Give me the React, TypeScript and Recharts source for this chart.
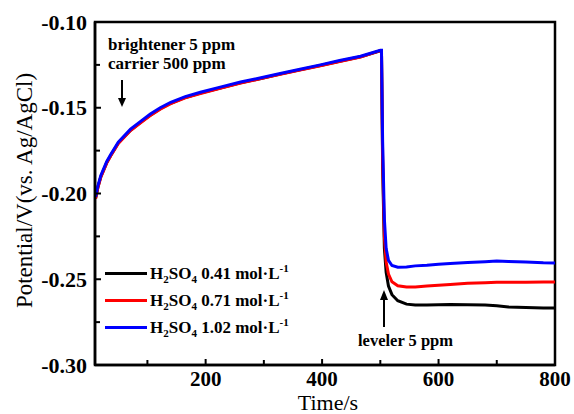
import { LineChart, Line, XAxis, YAxis, Legend, ReferenceArea } from 'recharts';

// time (s) shared by all three curves
const times = [
  11, 15, 20, 30, 37, 50, 71, 90, 105, 122, 140, 165, 191, 225, 260, 295, 328, 362, 397, 430, 466, 500,
  502, 504, 507, 510, 514, 520, 530, 545, 560, 580, 600, 620, 650, 680, 700, 720, 750, 780, 800,
];

const black041 = [
  -0.2028, -0.1963, -0.1902, -0.1821, -0.1778, -0.1706, -0.1631, -0.1581, -0.1543, -0.1506, -0.1474,
  -0.1440, -0.1415, -0.1385, -0.1355, -0.1329, -0.1304, -0.1279, -0.1254, -0.1229, -0.1203, -0.1168,
  -0.1168, -0.185, -0.232, -0.246, -0.254, -0.259, -0.2625, -0.2645, -0.265, -0.265, -0.2648, -0.2647,
  -0.2648, -0.265, -0.2655, -0.2662, -0.2665, -0.2667, -0.2668,
];

const red071 = [
  -0.2030, -0.1965, -0.1905, -0.1823, -0.1780, -0.1708, -0.1633, -0.1583, -0.1545, -0.1508, -0.1476,
  -0.1442, -0.1417, -0.1387, -0.1356, -0.1330, -0.1305, -0.1280, -0.1255, -0.1230, -0.1204, -0.1167,
  -0.1167, -0.180, -0.225, -0.240, -0.247, -0.2515, -0.2538, -0.2545, -0.2545, -0.254, -0.2535, -0.253,
  -0.2524, -0.252, -0.2518, -0.2517, -0.2517, -0.2516, -0.2516,
];

const blue102 = [
  -0.2020, -0.1955, -0.1895, -0.1815, -0.1772, -0.1700, -0.1625, -0.1575, -0.1537, -0.1500, -0.1468,
  -0.1435, -0.1410, -0.1380, -0.1350, -0.1325, -0.1300, -0.1275, -0.1250, -0.1225, -0.1200, -0.1165,
  -0.1165, -0.170, -0.215, -0.232, -0.239, -0.242, -0.243, -0.2428, -0.2422, -0.2418, -0.2412, -0.2408,
  -0.2402, -0.2398, -0.2394, -0.2396, -0.24, -0.2404, -0.2405,
];

const concentrations = ['0.41', '0.71', '1.02'];
const colors = ['#000000', '#ff0000', '#0000ff'];

const xTicks = [100, 200, 300, 400, 500, 600, 700, 800];
const xLabels = [200, 400, 600, 800];
const yTicks = [-0.3, -0.275, -0.25, -0.225, -0.2, -0.175, -0.15, -0.125, -0.1];
const yLabels = ['-0.30', '-0.25', '-0.20', '-0.15', '-0.10'];

const data = times.map((t, i) => ({ t, a: black041[i], b: red071[i], c: blue102[i] }));

const font = '"Liberation Serif", "Times New Roman", serif';

const XTick = ({ x, y, payload }: any) => {
  const major = xLabels.includes(payload.value);
  return (
    <g>
      <line x1={x} x2={x} y1={y} y2={y - (major ? 6 : 5)} stroke="#000" strokeWidth={2} />
      {major && (
        <text x={x} y={y + 14} textAnchor="middle" dominantBaseline="central"
          fontFamily={font} fontSize={21} fontWeight="bold" fill="#000">
          {payload.value}
        </text>
      )}
    </g>
  );
};

const YTick = ({ x, y, payload }: any) => {
  const s = Number(payload.value).toFixed(2);
  const major = yLabels.includes(s) && Math.abs(payload.value * 100 - Math.round(payload.value * 100)) < 1e-6;
  return (
    <g>
      <line x1={x} x2={x + (major ? 6 : 5)} y1={y} y2={y} stroke="#000" strokeWidth={2} />
      {major && (
        <text x={x - 8} y={y} textAnchor="end" dominantBaseline="central"
          fontFamily={font} fontSize={22} fontWeight="bold" fill="#000">
          {s}
        </text>
      )}
    </g>
  );
};

const renderLegend = () => (
  <div style={{ fontFamily: font, fontSize: 17, fontWeight: 'bold', color: '#000' }}>
    {concentrations.map((c, i) => (
      <div key={c} style={{ display: 'flex', alignItems: 'center', height: 27 }}>
        <span style={{ display: 'inline-block', width: 42, height: 3, background: colors[i], marginRight: 3 }} />
        <span>
          H<sub style={{ fontSize: 11 }}>2</sub>SO<sub style={{ fontSize: 11 }}>4</sub> {c} mol·L
          <sup style={{ fontSize: 11 }}>-1</sup>
        </span>
      </div>
    ))}
  </div>
);

export default function App() {
  return (
    <div style={{ position: 'absolute', left: 0, top: 0, background: '#fff' }}>
      <LineChart width={574} height={414} data={data} margin={{ top: 22, right: 19, bottom: 0, left: 0 }}>
        <XAxis
          dataKey="t"
          type="number"
          domain={[10, 800]}
          ticks={xTicks}
          tickSize={0}
          tickMargin={0}
          tick={<XTick />}
          axisLine={{ stroke: '#000', strokeWidth: 2.5 }}
          height={49}
          label={({ viewBox }: any) => (
            <text x={viewBox.x + viewBox.width / 2 + 3} y={viewBox.y + 45} textAnchor="middle"
              fontFamily={font} fontSize={22} fill="#000">
              Time/s
            </text>
          )}
        />
        <YAxis
          type="number"
          domain={[-0.3, -0.1]}
          ticks={yTicks}
          tickSize={0}
          tickMargin={0}
          tick={<YTick />}
          axisLine={{ stroke: '#000', strokeWidth: 2.5 }}
          width={95}
          label={({ viewBox }: any) => (
            <text
              x={viewBox.x + 24}
              y={viewBox.y + viewBox.height / 2 - 3}
              transform={`rotate(-90 ${viewBox.x + 24} ${viewBox.y + viewBox.height / 2 - 3})`}
              textAnchor="middle"
              dominantBaseline="central"
              fontFamily={font}
              fontSize={23}
              fill="#000"
            >
              Potential/V(vs. Ag/AgCl)
            </text>
          )}
        />
        <ReferenceArea x1={10} x2={800} y1={-0.3} y2={-0.1} fill="none" stroke="#000" strokeWidth={2.5} fillOpacity={0} />
        <Line dataKey="a" name={concentrations[0]} stroke={colors[0]} strokeWidth={3} dot={false} isAnimationActive={false} />
        <Line dataKey="b" name={concentrations[1]} stroke={colors[1]} strokeWidth={3} dot={false} isAnimationActive={false} />
        <Line dataKey="c" name={concentrations[2]} stroke={colors[2]} strokeWidth={3} dot={false} isAnimationActive={false} />
        <Legend
          layout="vertical"
          align="center"
          verticalAlign="middle"
          content={renderLegend}
          wrapperStyle={{ left: 105, top: 260, width: 220 }}
        />
        <text x={108} y={44} dominantBaseline="central" fontFamily={font} fontSize={17} fontWeight="bold">brightener 5 ppm</text>
        <text x={108} y={63} dominantBaseline="central" fontFamily={font} fontSize={17} fontWeight="bold">carrier 500 ppm</text>
        <line x1={122} x2={122} y1={80} y2={100} stroke="#000" strokeWidth={2} />
        <path d="M118,98 L126,98 L122,107 Z" fill="#000" />
        <text x={358} y={340} dominantBaseline="central" fontFamily={font} fontSize={16.5} fontWeight="bold">leveler 5 ppm</text>
        <line x1={384} x2={384} y1={327} y2={298} stroke="#000" strokeWidth={2} />
        <path d="M380,300 L388,300 L384,290 Z" fill="#000" />
      </LineChart>
    </div>
  );
}
